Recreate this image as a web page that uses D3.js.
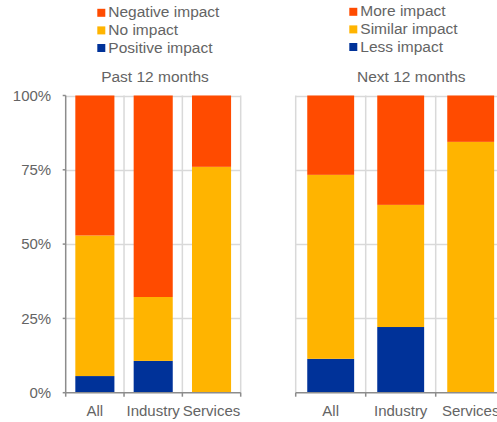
<!DOCTYPE html>
<html>
<head>
<meta charset="utf-8">
<script src="https://cdn.jsdelivr.net/npm/d3@7"></script>
<style>
  html, body { margin: 0; padding: 0; background: #fff; }
  svg { display: block; font-family: "Liberation Sans", Arial, sans-serif; }
</style>
</head>
<body>
<svg id="chart" width="497" height="422"></svg>
<script>
// ---- data ----
const categories = ["All", "Industry", "Services"];
const yTicks = [0, 25, 50, 75, 100];
const yTickLabels = ["0%", "25%", "50%", "75%", "100%"];

const pastTitle = "Past 12 months";
const pastSeriesNames = ["Positive impact", "No impact", "Negative impact"];
const pastPositive = [5.6, 10.7, 0];
const pastNo = [47.3, 21.5, 76.0];
const pastNegative = [47.1, 67.8, 24.0];

const nextTitle = "Next 12 months";
const nextSeriesNames = ["Less impact", "Similar impact", "More impact"];
const nextLess = [11.4, 22.1, 0];
const nextSimilar = [61.9, 41.1, 84.4];
const nextMore = [26.7, 36.8, 15.6];

const colors = ["#003299", "#FFB400", "#FF4B00"];
const textColor = "#646464";
const gridColor = "#d9d9d9";
const axisColor = "#8c8c8c";

const svg = d3.select("#chart");

function panel(opts) {
  const { x0, x1, series, names, title, titleX, legendX, legendY, showY, leftAxisColor } = opts;
  const g = svg.append("g");
  const rows = categories.map((c, i) => {
    const r = { cat: c };
    names.forEach((n, k) => r[n] = series[k][i]);
    return r;
  });
  const x = d3.scaleBand().domain(categories).range([x0, x1])
    .paddingInner(0.33).paddingOuter(0.165);
  const y = d3.scaleLinear().domain([0, 100]).range([392.7, 95.5]);

  // horizontal gridlines
  g.selectAll(".hg").data(yTicks.filter(t => t > 0)).join("line")
    .attr("x1", x0).attr("x2", x1)
    .attr("y1", d => Math.round(y(d)) + 0.5).attr("y2", d => Math.round(y(d)) + 0.5)
    .attr("stroke", gridColor).attr("stroke-width", 1.5);
  // vertical gridlines at band boundaries
  const bounds = d3.range(1, categories.length + 1).map(i => x0 + i * x.step() - x.step() * 0 );
  const bPos = d3.range(1, categories.length + 1).map(i => x.range()[0] + i * (x1 - x0) / categories.length);
  g.selectAll(".vg").data(bPos).join("line")
    .attr("x1", d => d).attr("x2", d => d)
    .attr("y1", y(100)).attr("y2", y(0))
    .attr("stroke", gridColor).attr("stroke-width", 1.5);

  // stacked bars
  const stack = d3.stack().keys(names)(rows);
  stack.forEach((layer, k) => {
    g.selectAll(".b" + k).data(layer).join("rect")
      .attr("x", d => x(d.data.cat))
      .attr("width", x.bandwidth())
      .attr("y", d => y(d[1]))
      .attr("height", d => Math.max(0, y(d[0]) - y(d[1])))
      .attr("fill", colors[k]);
  });

  // left axis line
  g.append("line").attr("x1", x0).attr("x2", x0).attr("y1", y(100)).attr("y2", y(0))
    .attr("stroke", leftAxisColor).attr("stroke-width", 1.5);
  if (showY) {
    g.selectAll(".yt").data(yTicks).join("line")
      .attr("x1", x0 - 3).attr("x2", x0)
      .attr("y1", d => y(d)).attr("y2", d => y(d))
      .attr("stroke", axisColor).attr("stroke-width", 1.5);
    g.selectAll(".yl").data(yTicks).join("text")
      .attr("x", x0 - 14.5).attr("y", d => y(d)).attr("dy", "0.35em")
      .attr("text-anchor", "end").attr("font-size", 15).attr("fill", textColor)
      .text((d, i) => yTickLabels[i]);
  }
  // bottom axis
  g.append("line").attr("x1", x0).attr("x2", x1).attr("y1", y(0)).attr("y2", y(0))
    .attr("stroke", axisColor).attr("stroke-width", 1.5);
  const tickPos = d3.range(0, categories.length + 1).map(i => x0 + i * (x1 - x0) / categories.length);
  g.selectAll(".xt").data(tickPos).join("line")
    .attr("x1", d => d).attr("x2", d => d).attr("y1", y(0)).attr("y2", y(0) + 4)
    .attr("stroke", axisColor).attr("stroke-width", 1.5);
  g.selectAll(".xl").data(categories).join("text")
    .attr("x", d => x(d) + x.bandwidth() / 2).attr("y", 415.5)
    .attr("text-anchor", "middle").attr("font-size", 15).attr("fill", textColor)
    .text(d => d);

  // title
  g.append("text").attr("x", titleX).attr("y", 81.5).attr("text-anchor", "middle")
    .attr("font-size", 15.5).attr("fill", textColor).text(title);

  // legend (top to bottom: reversed series)
  const legendItems = names.map((n, k) => ({ n, c: colors[k] })).reverse();
  const lg = g.append("g");
  legendItems.forEach((d, i) => {
    const by = legendY + i * 17.6;
    lg.append("rect").attr("x", legendX).attr("y", by - 8.5).attr("width", 8).attr("height", 8).attr("fill", d.c);
    lg.append("text").attr("x", legendX + 11).attr("y", by).attr("font-size", 15.5)
      .attr("fill", textColor).text(d.n);
  });
}

panel({
  x0: 65.7, x1: 240.7,
  series: [pastPositive, pastNo, pastNegative], names: pastSeriesNames,
  title: pastTitle, titleX: 155, legendX: 97.3, legendY: 17.3, showY: true,
  leftAxisColor: axisColor
});
panel({
  x0: 295.7, x1: 505.7,
  series: [nextLess, nextSimilar, nextMore], names: nextSeriesNames,
  title: nextTitle, titleX: 411.3, legendX: 349.3, legendY: 16.3, showY: false,
  leftAxisColor: gridColor
});
</script>
</body>
</html>
